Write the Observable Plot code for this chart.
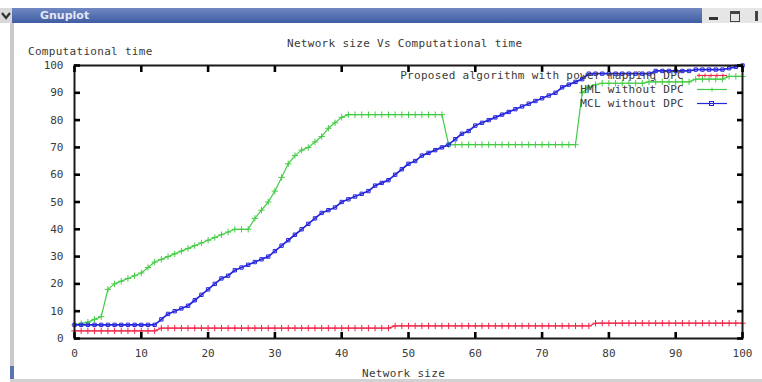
<!DOCTYPE html>
<html><head><meta charset="utf-8">
<script src="https://cdn.jsdelivr.net/npm/d3@7"></script>
<script src="https://cdn.jsdelivr.net/npm/@observablehq/plot@0.6"></script>
<style>
body{margin:0;background:#fff;}
#win{position:relative;width:762px;height:382px;overflow:hidden;background:#fff;font-family:"DejaVu Sans Mono",monospace;color:#3a3a3a;}
#plot{position:absolute;left:0;top:0;}
.abs{position:absolute;}
.txt{position:absolute;font-size:11px;white-space:nowrap;letter-spacing:0.3px;}
</style></head><body>
<div id="win">
  <div id="plot"></div>
  <div class="abs" style="left:0;top:8px;width:12px;height:15px;background:#d9d9d9;"></div>
  <svg class="abs" style="left:0;top:8px" width="12" height="15"><polyline points="2,5 6,10 10,5" fill="none" stroke="#333" stroke-width="2.2"/></svg>
  <div class="abs" style="left:12px;top:8px;width:690px;height:15px;background:linear-gradient(#7088c2,#3f5da2);"></div>
  <div class="abs" style="left:40px;top:8px;height:15px;line-height:15px;font-family:'DejaVu Sans';font-weight:bold;font-size:11px;color:#e2e8f6;">Gnuplot</div>
  <div class="abs" style="left:702px;top:8px;width:60px;height:15px;background:#e6e6e6;"></div>
  <div class="abs" style="left:709px;top:17px;width:9px;height:3px;background:#333;"></div>
  <div class="abs" style="left:730px;top:11px;width:8px;height:7px;border:1.5px solid #444;border-top-width:3px;"></div>
  <div class="abs" style="left:755px;top:11px;width:3px;height:10px;background:#444;"></div>
  <div class="abs" style="left:10px;top:23px;width:4px;height:359px;background:#c9c9c9;"></div>
  <div class="abs" style="left:10px;top:366px;width:4px;height:14px;background:#5b74b2;"></div>
  <div class="abs" style="left:10px;top:379px;width:752px;height:3px;background:#d2d2d2;"></div>
  <div class="txt" style="left:287px;top:37px;">Network size Vs Computational time</div>
  <div class="txt" style="left:28px;top:45px;">Computational time</div>
  <div class="txt" style="left:362px;top:367px;">Network size</div>
  <div id="legend"></div>
</div>
<script>
const sizes = d3.range(0, 101);
const xTicks = [0, 10, 20, 30, 40, 50, 60, 70, 80, 90, 100];
const yTicks = [0, 10, 20, 30, 40, 50, 60, 70, 80, 90, 100];
const seriesNames = ["Proposed algorithm with power mapping DPC", "HML without DPC", "MCL without DPC"];
const seriesColors = ["#f0284a", "#44cc44", "#2626dc"];

const proposed = [
 2.8,2.8,2.8,2.8,2.8,2.8,2.8,2.8,2.8,2.8,
 2.8,2.8,2.8,3.8,3.8,3.8,3.8,3.8,3.8,3.8,
 3.8,3.8,3.8,3.8,3.8,3.8,3.8,3.8,3.8,3.8,
 3.8,3.8,3.8,3.8,3.8,3.8,3.8,3.8,3.8,3.8,
 3.8,3.8,3.8,3.8,3.8,3.8,3.8,3.8,4.6,4.6,
 4.6,4.6,4.6,4.6,4.6,4.6,4.6,4.6,4.6,4.6,
 4.6,4.6,4.6,4.6,4.6,4.6,4.6,4.6,4.6,4.6,
 4.6,4.6,4.6,4.6,4.6,4.6,4.6,4.6,5.6,5.6,
 5.6,5.6,5.6,5.6,5.6,5.6,5.6,5.6,5.6,5.6,
 5.6,5.6,5.6,5.6,5.6,5.6,5.6,5.6,5.6,5.6,
 5.6];
const hml = [
 5,5.5,6,7,8,18,20,21,22,23,
 24,26,28,29,30,31,32,33,34,35,
 36,37,38,39,40,40,40,44,47,50,
 54,59,64,67,69,70,72,74,77,79,
 81,82,82,82,82,82,82,82,82,82,
 82,82,82,82,82,82,71,71,71,71,
 71,71,71,71,71,71,71,71,71,71,
 71,71,71,71,71,71,90,92,93,93.5,
 93.5,93.5,93.5,93.5,93.5,93.5,94,94,94,94,
 94,94,94,95,95,95,95,95,96,96,
 96];
const mcl = [
 5,5,5,5,5,5,5,5,5,5,
 5,5,5,7,9,10,11,12,14,16,
 18,20,22,23,25,26,27,28,29,30,
 32,34,36,38,40,42,44,46,47,48,
 50,51,52,53,54,56,57,58,60,62,
 64,65,67,68,69,70,71,73,75,76,
 78,79,80,81,82,83,84,85,86,87,
 88,89,90,92,93,94,95,97,97,97,
 97,97,97,97,97,97,97,98,98,98,
 98,98,98,98.5,98.5,98.5,98.5,98.5,99,99.5,
 100];
const allSeries = [proposed, hml, mcl];
const symbols = ["plus", "plus", "square"];

const marks = [];
allSeries.forEach((arr, k) => {
  marks.push(Plot.line(sizes, {x: d => d, y: (d, i) => arr[i], stroke: seriesColors[k], strokeWidth: k === 2 ? 1.7 : 1.2}));
  marks.push(Plot.dot(sizes, {x: d => d, y: (d, i) => arr[i], symbol: symbols[k], r: k === 2 ? 1.9 : 2.2, stroke: seriesColors[k], strokeWidth: 1}));
});

const noText = () => "";
const tickOpts = {tickSize: -6, tickFormat: noText, label: null, stroke: "#000", strokeWidth: 2.6};
const chart = Plot.plot({
  width: 762, height: 382,
  marginLeft: 74, marginRight: 20, marginTop: 65, marginBottom: 44,
  x: {domain: [0, 100], label: null},
  y: {domain: [0, 100], label: null},
  style: {fontFamily: "DejaVu Sans Mono", fontSize: "11px", color: "#3a3a3a"},
  marks: [
    ...marks,
    Plot.frame({stroke: "#1a1a1a", strokeWidth: 2}),
    Plot.axisX({anchor: "bottom", ticks: xTicks, ...tickOpts}),
    Plot.axisX({anchor: "top", ticks: xTicks, ...tickOpts}),
    Plot.axisY({anchor: "left", ticks: yTicks, ...tickOpts}),
    Plot.axisY({anchor: "right", ticks: yTicks, ...tickOpts}),
    Plot.axisX({anchor: "bottom", ticks: xTicks, tickSize: 0, tickPadding: 11, label: null, tickFormat: d => String(d)}),
    Plot.axisY({anchor: "left", ticks: yTicks, tickSize: 0, tickPadding: 11, label: null, tickFormat: d => String(d)})
  ]
});
document.getElementById("plot").appendChild(chart);

// legend
const leg = document.getElementById("legend");
seriesNames.forEach((name, k) => {
  const top = 69 + k * 14;
  const t = document.createElement("div");
  t.className = "txt";
  t.style.right = (762 - 684) + "px";
  t.style.top = top + "px";
  t.textContent = name;
  leg.appendChild(t);
  const ns = "http://www.w3.org/2000/svg";
  const s = document.createElementNS(ns, "svg");
  s.setAttribute("width", 34); s.setAttribute("height", 12);
  s.setAttribute("class", "abs");
  s.style.left = "695px"; s.style.top = top + "px";
  const l = document.createElementNS(ns, "line");
  l.setAttribute("x1", 2); l.setAttribute("x2", 32); l.setAttribute("y1", 6.5); l.setAttribute("y2", 6.5);
  l.setAttribute("stroke", seriesColors[k]); l.setAttribute("stroke-width", 1.2);
  s.appendChild(l);
  if (symbols[k] === "square") {
    const r = document.createElementNS(ns, "rect");
    r.setAttribute("x", 14.5); r.setAttribute("y", 4.5); r.setAttribute("width", 4); r.setAttribute("height", 4);
    r.setAttribute("fill", "none"); r.setAttribute("stroke", seriesColors[k]);
    s.appendChild(r);
  } else {
    const p = document.createElementNS(ns, "path");
    const xs0 = k === 0 ? [4, 10, 16, 22, 28] : [17];
    p.setAttribute("d", xs0.map(x => `M${x - 2},6.5h4M${x},4.5v4`).join(""));
    p.setAttribute("stroke", seriesColors[k]);
    s.appendChild(p);
  }
  leg.appendChild(s);
});
</script>
</body></html>
